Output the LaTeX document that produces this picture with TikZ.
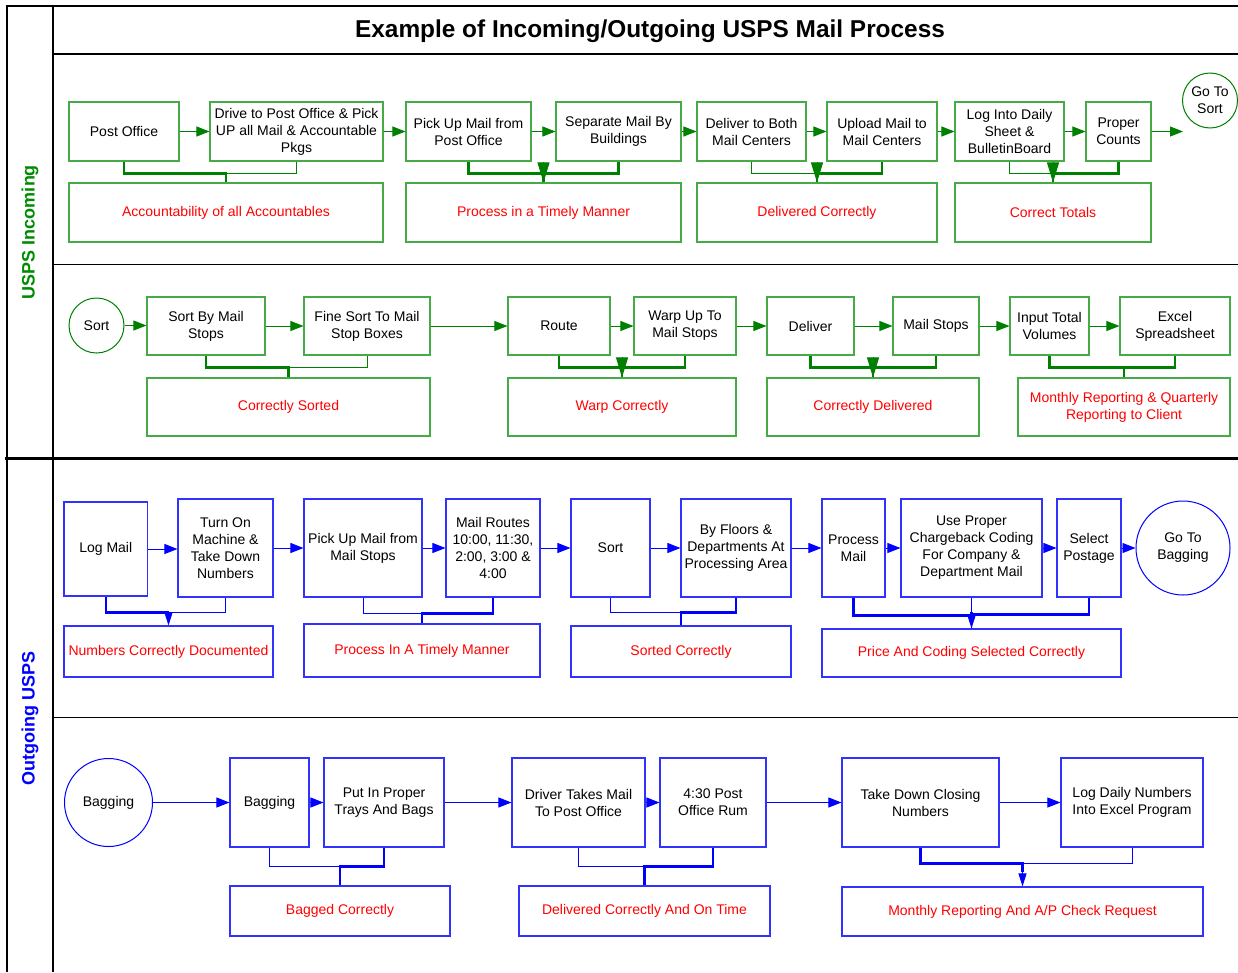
\documentclass[tikz,border=0pt]{standalone}
\usepackage{fontspec}
\setmainfont{Liberation Sans}
\usetikzlibrary{arrows.meta,calc}
\definecolor{gline}{RGB}{0,128,0}
\definecolor{gborder}{RGB}{70,170,70}
\definecolor{bline}{RGB}{0,0,255}
\definecolor{bborder}{RGB}{50,50,255}
\definecolor{redtxt}{RGB}{255,0,0}
\definecolor{labg}{RGB}{0,140,0}
\tikzset{
  every node/.style={font=\fontsize{14}{17}\selectfont, align=center, inner sep=0pt},
  sz/.style 2 args={minimum width=#1, minimum height=#2},
  gb/.style={draw=gborder, line width=1.1pt},
  bb/.style={draw=bborder, line width=1.1pt},
  gout/.style={gb, text=redtxt},
  bout/.style={bb, text=redtxt},
  gcirc/.style={circle, draw=gline, line width=1pt},
  bcirc/.style={circle, draw=bline, line width=1pt},
  garr/.style={gline, line width=0.9pt, -{Triangle[length=13pt,width=10pt]}},
  barr/.style={bline, line width=0.9pt, -{Triangle[length=13pt,width=10pt]}},
  gbig/.style={gline, line width=1pt, -{Triangle[length=20pt,width=12pt]}},
  bsmall/.style={bline, line width=1pt, -{Triangle[length=13pt,width=8pt]}},
  gthin/.style={gline, line width=1pt},
  gthick/.style={gline, line width=2.4pt},
  bthin/.style={bline, line width=1pt},
  bthick/.style={bline, line width=2.4pt},
  frame/.style={black, line width=1.3pt}
}
\begin{document}
\begin{tikzpicture}[x=1pt,y=-1pt]
\useasboundingbox (0,0) rectangle (1238,972);
\fill[white] (0,0) rectangle (1238,972);
% frame
\draw[frame] (7,972) -- (7,6) -- (1238,6);
\draw[frame] (53,6) -- (53,972);
\draw[frame] (53,54) -- (1238,54);
\draw[black, line width=1pt] (53,264.5) -- (1238,264.5);
\draw[black, line width=3.5pt] (5,458.5) -- (1238,458.5);
\draw[black, line width=1pt] (53,717) -- (1238,717);

\node[font=\fontsize{24.4}{28}\selectfont\bfseries, anchor=base] (title) at (650,37) {Example of Incoming/Outgoing USPS Mail Process};
\node[font=\fontsize{18}{22}\selectfont\bfseries, text=labg, rotate=90] (lin) at (30,232) {USPS Incoming};
\node[font=\fontsize{18}{22}\selectfont\bfseries, text=bline, rotate=90] (lout) at (30,718) {Outgoing USPS};

% ---------- Incoming row 1
\node[gb, sz={110}{59}] (po) at (124,131.5) {Post Office};
\node[gb, sz={173}{59}] (drive) at (296.5,131.5) {Drive to Post Office \& Pick\\UP all Mail \& Accountable\\Pkgs};
\node[gb, sz={125}{59}] (pick) at (468.5,131.5) {Pick Up Mail from\\Post Office};
\node[gb, sz={125}{59}] (sep) at (618.5,131.5) {Separate Mail By\\Buildings};
\node[gb, sz={109}{59}] (dlv) at (751.5,131.5) {Deliver to Both\\Mail Centers};
\node[gb, sz={110}{59}] (upl) at (882,131.5) {Upload Mail to\\Mail Centers};
\node[gb, sz={109}{59}] (logd) at (1009.5,131.5) {Log Into Daily\\Sheet \&\\BulletinBoard};
\node[gb, sz={65}{59}] (prop) at (1118.5,131.5) {Proper\\Counts};
\node[gcirc, minimum size=55] (gts) at (1210,100.5) {Go To\\Sort};
\coordinate (gtsin) at (1183,131.5);

\node[gout, sz={314}{59}] (o1) at (226,212.5) {Accountability of all Accountables};
\node[gout, sz={275}{59}] (o2) at (543.5,212.5) {Process in a Timely Manner};
\node[gout, sz={240}{59}] (o3) at (817,212.5) {Delivered Correctly};
\node[gout, sz={196}{59}] (o4) at (1053,212.5) {Correct Totals};

\draw[garr] (po.east) -- (po.east -| drive.west);
\draw[garr] (drive.east) -- (drive.east -| pick.west);
\draw[garr] (pick.east) -- (pick.east -| sep.west);
\draw[garr] (sep.east) -- (sep.east -| dlv.west);
\draw[garr] (dlv.east) -- (dlv.east -| upl.west);
\draw[garr] (upl.east) -- (upl.east -| logd.west);
\draw[garr] (logd.east) -- (logd.east -| prop.west);
\draw[garr] (prop.east) -- (gtsin);

\draw[gthin] (drive.south) -- ++(0,12) -| (o1.north);
\draw[gthick] (po.south) -- ++(0,12) -| (o1.north);
\draw[gthick] (pick.south) -- ++(0,12) -| (o2.north);
\draw[gthick] (sep.south) -- ++(0,12) -| (o2.north);
\draw[gbig] ($(o2.north)+(0,-20)$) -- (o2.north);
\draw[gthin] (dlv.south) -- ++(0,12) -| (o3.north);
\draw[gthick] (upl.south) -- ++(0,12) -| (o3.north);
\draw[gbig] ($(o3.north)+(0,-20)$) -- (o3.north);
\draw[gthin] (logd.south) -- ++(0,12) -| (o4.north);
\draw[gthick] (prop.south) -- ++(0,12) -| (o4.north);
\draw[gbig] ($(o4.north)+(0,-20)$) -- (o4.north);

% ---------- Incoming row 2
\node[gcirc, minimum size=55] (sortc) at (96.5,325.5) {Sort};
\node[gb, sz={118}{58}] (sbm) at (206,326) {Sort By Mail\\Stops};
\node[gb, sz={126}{58}] (fine) at (367,326) {Fine Sort To Mail\\Stop Boxes};
\node[gb, sz={102}{58}] (route) at (559,326) {Route};
\node[gb, sz={102}{58}] (warp) at (685,326) {Warp Up To\\Mail Stops};
\node[gb, sz={87}{58}] (deliv) at (810.5,326) {Deliver};
\node[gb, sz={86}{58}] (mstops) at (936,326) {Mail Stops};
\node[gb, sz={79}{58}] (input) at (1049.5,326) {Input Total\\Volumes};
\node[gb, sz={110}{58}] (excel) at (1175,326) {Excel\\Spreadsheet};

\node[gout, sz={283}{58}] (q1) at (288.5,407) {Correctly Sorted};
\node[gout, sz={228}{58}] (q2) at (622,407) {Warp Correctly};
\node[gout, sz={212}{58}] (q3) at (873,407) {Correctly Delivered};
\node[gout, sz={212}{58}] (q4) at (1124,407) {Monthly Reporting \& Quarterly\\Reporting to Client};

\draw[garr] (sortc.east) -- (sortc.east -| sbm.west);
\draw[garr] (sbm.east) -- (sbm.east -| fine.west);
\draw[garr] (fine.east) -- (fine.east -| route.west);
\draw[garr] (route.east) -- (route.east -| warp.west);
\draw[garr] (warp.east) -- (warp.east -| deliv.west);
\draw[garr] (deliv.east) -- (deliv.east -| mstops.west);
\draw[garr] (mstops.east) -- (mstops.east -| input.west);
\draw[garr] (input.east) -- (input.east -| excel.west);

\draw[gthin] (fine.south) -- ++(0,12) -| (q1.north);
\draw[gthick] (sbm.south) -- ++(0,12) -| (q1.north);
\draw[gthick] (route.south) -- ++(0,12) -| (q2.north);
\draw[gthick] (warp.south) -- ++(0,12) -| (q2.north);
\draw[gbig] ($(q2.north)+(0,-20)$) -- (q2.north);
\draw[gthick] (deliv.south) -- ++(0,12) -| (q3.north);
\draw[gthick] (mstops.south) -- ++(0,12) -| (q3.north);
\draw[gbig] ($(q3.north)+(0,-20)$) -- (q3.north);
\draw[gthick] (input.south) -- ++(0,12) -| (q4.north);
\draw[gthick] (excel.south) -- ++(0,12) -| (q4.north);

% ---------- Outgoing row 1
\node[bb, sz={83.5}{94}] (logm) at (105.75,549) {Log Mail};
\node[bb, sz={95}{98}] (turn) at (225.5,548) {Turn On\\Machine \&\\Take Down\\Numbers};
\node[bb, sz={118}{98}] (pum) at (363,548) {Pick Up Mail from\\Mail Stops};
\node[bb, sz={94}{98}] (mroutes) at (493,548) {Mail Routes\\10:00, 11:30,\\2:00, 3:00 \&\\4:00};
\node[bb, sz={79}{98}] (sortb) at (610.5,548) {Sort};
\node[bb, sz={110}{98}] (floors) at (736,548) {By Floors \&\\Departments At\\Processing Area};
\node[bb, sz={63}{98}] (procm) at (853.5,548) {Process\\Mail};
\node[bb, sz={141}{98}] (usep) at (971.5,548) {Use Proper\\Chargeback Coding\\For Company \&\\Department Mail};
\node[bb, sz={64}{98}] (selp) at (1089,548) {Select\\Postage};
\node[bcirc, minimum size=94] (gotobag) at (1183,548) {Go To\\Bagging};

\node[bout, sz={209}{51}] (r1) at (168.5,651.5) {Numbers Correctly Documented};
\node[bout, sz={236}{53}] (r2) at (422,650.5) {Process In A Timely Manner};
\node[bout, sz={220}{51}] (r3) at (681,651.5) {Sorted Correctly};
\node[bout, sz={299}{48}] (r4) at (971.5,653) {Price And Coding Selected Correctly};

\draw[barr] (logm.east) -- (logm.east -| turn.west);
\draw[barr] (turn.east) -- (turn.east -| pum.west);
\draw[barr] (pum.east) -- (pum.east -| mroutes.west);
\draw[barr] (mroutes.east) -- (mroutes.east -| sortb.west);
\draw[barr] (sortb.east) -- (sortb.east -| floors.west);
\draw[barr] (floors.east) -- (floors.east -| procm.west);
\draw[barr] (procm.east) -- (procm.east -| usep.west);
\draw[barr] (usep.east) -- (usep.east -| selp.west);
\draw[barr] (selp.east) -- (selp.east -| gotobag.west);

\draw[bthin] (turn.south) -- ++(0,15) -| ($(r1.north)+(0,-13)$);
\draw[bthick] (logm.south) -- ++(0,16) -| ($(r1.north)+(0,-13)$);
\draw[bsmall] ($(r1.north)+(0,-14)$) -- (r1.north);
\draw[bthin] (pum.south) -- ++(0,16) -| (r2.north);
\draw[bthick] (mroutes.south) -- ++(0,16) -| (r2.north);
\draw[bthin] (sortb.south) -- ++(0,15) -| (r3.north);
\draw[bthick] (floors.south) -- ++(0,15) -| (r3.north);
\draw[bthin] (usep.south) -- (r4.north);
\draw[bthick] (procm.south) -- ++(0,18) -| ($(r4.north)+(0,-15)$);
\draw[bthick] (selp.south) -- ++(0,17) -| ($(r4.north)+(0,-16)$);
\draw[bsmall] ($(r4.north)+(0,-15)$) -- (r4.north);

% ---------- Outgoing row 2
\node[bcirc, minimum size=88] (bagc) at (108.5,802.5) {Bagging};
\node[bb, sz={79}{89}] (bagb) at (269.5,802.5) {Bagging};
\node[bb, sz={120}{89}] (putin) at (384,802.5) {Put In Proper\\Trays And Bags};
\node[bb, sz={133}{89}] (driver) at (578.5,802.5) {Driver Takes Mail\\To Post Office};
\node[bb, sz={106}{89}] (f430) at (713,802.5) {4:30 Post\\Office Rum};
\node[bb, sz={157}{89}] (takedn) at (920.5,802.5) {Take Down Closing\\Numbers};
\node[bb, sz={142}{89}] (logdly) at (1132,802.5) {Log Daily Numbers\\Into Excel Program};

\node[bout, sz={220}{50}] (s1) at (340,911) {Bagged Correctly};
\node[bout, sz={251}{50}] (s2) at (644.5,911) {Delivered Correctly And On Time};
\node[bout, sz={361}{49}] (s3) at (1022.5,911.5) {Monthly Reporting And A/P Check Request};

\draw[barr] (bagc.east) -- (bagc.east -| bagb.west);
\draw[barr] (bagb.east) -- (bagb.east -| putin.west);
\draw[barr] (putin.east) -- (putin.east -| driver.west);
\draw[barr] (driver.east) -- (driver.east -| f430.west);
\draw[barr] (f430.east) -- (f430.east -| takedn.west);
\draw[barr] (takedn.east) -- (takedn.east -| logdly.west);

\draw[bthin] (bagb.south) -- ++(0,19) -| (s1.north);
\draw[bthick] (putin.south) -- ++(0,19) -| (s1.north);
\draw[bthin] (driver.south) -- ++(0,19) -| (s2.north);
\draw[bthick] (f430.south) -- ++(0,19) -| (s2.north);
\draw[bthin] (logdly.south) -- ++(0,16) -| ($(s3.north)+(0,-14)$);
\draw[bthick] (takedn.south) -- ++(0,16) -| ($(s3.north)+(0,-14)$);
\draw[bsmall] ($(s3.north)+(0,-14)$) -- (s3.north);
\end{tikzpicture}
\end{document}
